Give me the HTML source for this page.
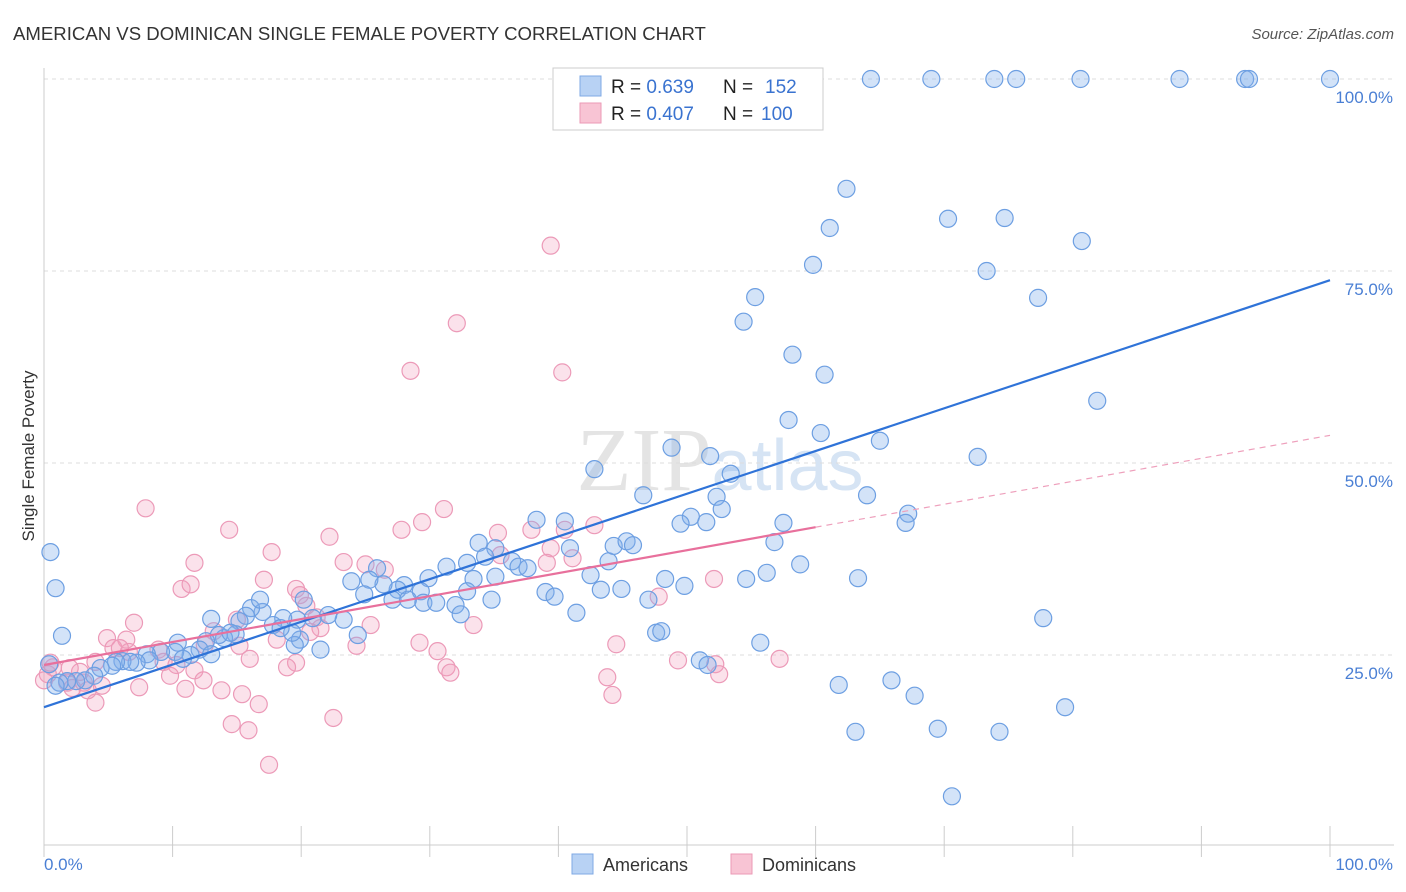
<!DOCTYPE html>
<html><head><meta charset="utf-8">
<style>
body{margin:0;background:#fff;font-family:"Liberation Sans",sans-serif;}
svg{display:block}
</style></head>
<body>
<svg id="chart" width="1406" height="892" xmlns="http://www.w3.org/2000/svg">
<text x="13" y="40" font-size="18.6" fill="#333">AMERICAN VS DOMINICAN SINGLE FEMALE POVERTY CORRELATION CHART</text>
<text x="1394" y="39" font-size="15" fill="#555" font-style="italic" text-anchor="end">Source: ZipAtlas.com</text>
<text x="720" y="490" font-size="90" fill="#e4e4e4" text-anchor="middle" font-family="Liberation Serif,serif">ZIP<tspan fill="#d6e4f4" font-family="Liberation Sans,sans-serif" font-size="72">atlas</tspan></text>
<g id="grid"></g>
<line x1="44" y1="68" x2="44" y2="845" stroke="#ccc"/>
<line x1="44" y1="845" x2="1394" y2="845" stroke="#ccc"/>
<g id="xticks"></g>
<text transform="translate(34,456) rotate(-90)" font-size="17" fill="#333" text-anchor="middle">Single Female Poverty</text>
<text x="44" y="870" font-size="17" fill="#4a7fd4">0.0%</text>
<text x="1393" y="870" font-size="17" fill="#4a7fd4" text-anchor="end">100.0%</text>
<g id="pts"></g>
<g id="lines"></g>
<g>
<rect x="553" y="68" width="270" height="62" fill="#fff" stroke="#ccc"/>
<rect x="580" y="76" width="21" height="20" fill="#b8d2f4" stroke="#7fa9e4"/>
<rect x="580" y="103" width="21" height="20" fill="#f8c4d4" stroke="#eb9ab6"/>
<text x="611" y="93" font-size="19" fill="#222">R = <tspan fill="#3a73d0">0.639</tspan><tspan x="723">N = </tspan><tspan x="765" fill="#3a73d0">152</tspan></text>
<text x="611" y="120" font-size="19" fill="#222">R = <tspan fill="#3a73d0">0.407</tspan><tspan x="723">N = </tspan><tspan x="761" fill="#3a73d0">100</tspan></text>
</g>
<g>
<rect x="572" y="854" width="21" height="20" fill="#b8d2f4" stroke="#7fa9e4"/>
<text x="603" y="871" font-size="18" fill="#333">Americans</text>
<rect x="731" y="854" width="21" height="20" fill="#f8c4d4" stroke="#eb9ab6"/>
<text x="762" y="871" font-size="18" fill="#333">Dominicans</text>
</g>
</svg>
<script>
const yTicks=[25,50,75,100];
const yTickLabels=["25.0%","50.0%","75.0%","100.0%"];
const xTickVals=[0,10,20,30,40,50,60,70,80,90,100];
const amX=[53.9,64.3,69.0,73.9,75.6,88.3,93.4,93.7,100,80.6,62.4,61.1,70.3,74.7,80.7,59.8,73.3,55.3,77.3,54.4,58.2,60.7,81.9,57.9,60.4,65.0,48.8,72.6,51.8,42.8,53.4,46.6,52.3,64.0,67.2,67.0,50.3,52.7,51.5,49.5,57.5,56.8,58.8,56.2,54.6,63.3,43.9,44.3,45.3,45.8,40.5,40.9,38.3,42.5,43.3,44.9,48.3,49.8,47.0,41.4,35.1,33.8,34.3,36.4,36.9,37.6,32.9,35.1,39.0,39.7,33.4,31.3,29.9,29.3,28.0,27.5,28.3,27.1,25.9,26.4,23.9,25.3,24.9,29.5,30.5,32.0,32.9,34.8,32.4,23.3,22.1,20.9,20.2,19.7,18.6,17.8,17.0,16.1,16.8,15.7,15.2,14.9,14.0,13.0,13.6,14.5,12.6,12.1,13.0,11.4,10.4,10.2,10.8,9.1,8.0,8.2,7.2,6.1,6.7,5.6,5.3,4.4,3.9,3.2,2.5,1.8,1.2,0.9,0.4,1.4,0.9,0.5,24.4,19.9,21.5,19.5,19.3,18.4,77.7,55.7,47.6,48.0,51.0,51.6,61.8,65.9,67.7,63.1,69.5,74.3,79.4,70.6];
const amY=[100,100,100,100,100,100,100,100,100,100,85.7,80.6,81.8,81.9,78.9,75.8,75.0,71.6,71.5,68.4,64.1,61.5,58.1,55.6,53.9,52.9,52.0,50.8,50.9,49.2,48.6,45.8,45.6,45.8,43.4,42.2,43.0,44.0,42.3,42.1,42.2,39.7,36.8,35.7,34.9,35.0,37.2,39.2,39.8,39.3,42.4,38.9,42.6,35.4,33.5,33.6,34.9,34.0,32.2,30.5,38.9,39.6,37.8,37.2,36.5,36.3,37.0,35.2,33.2,32.6,34.9,36.5,35.0,33.3,34.1,33.5,32.2,32.2,36.3,34.2,34.6,34.8,32.9,31.8,31.8,31.5,33.3,32.2,30.3,29.6,30.2,29.8,32.2,29.6,29.8,28.9,30.6,31.1,32.2,30.1,29.4,27.7,27.2,29.7,27.6,27.9,26.8,25.7,25.1,25.0,26.6,25.4,24.5,25.4,25.1,24.3,24.0,24.2,24.1,24.1,23.6,23.3,22.3,21.7,21.6,21.6,21.4,21.0,23.8,27.5,33.7,38.4,27.6,27.0,25.7,26.3,27.9,28.5,29.8,26.6,27.9,28.1,24.3,23.7,21.1,21.7,19.7,15.0,15.4,15.0,18.2,6.6];
const doX=[39.4,32.1,28.5,40.3,7.9,14.4,31.1,29.4,22.2,27.8,35.3,37.9,40.5,42.8,41.1,39.4,39.1,35.5,26.5,25.0,23.3,17.7,17.1,11.7,10.7,11.4,19.6,19.9,20.4,21.2,21.5,20.7,15.0,13.2,12.5,7.0,6.4,4.9,5.4,6.6,8.9,9.3,10.3,11.7,9.8,11.0,12.4,13.8,15.4,14.6,16.7,15.9,17.5,22.5,18.1,19.6,18.9,16.0,15.2,24.3,25.4,29.2,30.6,31.3,31.6,33.4,44.5,43.8,44.2,49.3,52.2,52.5,52.1,57.2,47.8,7.4,4.0,4.5,3.1,2.8,1.8,0.7,0.3,0,2.2,3.4,2.0,0.5,4.0,5.9];
const doY=[78.3,68.2,62.0,61.8,44.1,41.3,44.0,42.3,40.4,41.3,40.9,41.3,41.3,41.9,37.6,38.9,37.0,38.0,36.1,36.8,37.1,38.4,34.8,37.0,33.6,34.2,33.6,32.8,31.4,29.9,28.5,28.0,29.6,28.1,26.3,29.2,27.0,27.2,25.9,25.4,25.7,24.1,23.7,23.0,22.3,20.6,21.7,20.4,19.9,16.0,18.6,15.2,10.7,16.8,27.0,24.0,23.4,24.5,26.2,26.2,28.9,26.6,25.5,23.4,22.7,28.9,26.4,22.1,19.8,24.3,23.8,22.5,34.9,24.5,32.6,20.8,18.8,21.0,21.4,22.8,21.4,23.4,22.5,21.7,20.7,20.4,23.3,24.0,24.1,25.9];
const amTrend=[18.2,73.8];
const doTrend=[23.7,53.6];
const doSolidEnd=[60];
const NS="http://www.w3.org/2000/svg";
const sx=v=>44+v*12.86;
const sy=v=>847-v*7.68;
function mk(tag,attrs,parent){const e=document.createElementNS(NS,tag);for(const k in attrs)e.setAttribute(k,attrs[k]);parent.appendChild(e);return e;}
const grid=document.getElementById('grid');
yTicks.forEach((t,i)=>{
 const l=mk('line',{x1:44,x2:1394,y1:sy(t),y2:sy(t),stroke:'#ddd','stroke-dasharray':'4,4'},grid);
 
 
 const tx=mk('text',{x:1393,y:sy(t)+24,'font-size':17,fill:'#4a7fd4','text-anchor':'end'},grid);
 tx.textContent=yTickLabels[i];
 
 
});
const xt=document.getElementById('xticks');
xTickVals.forEach(v=>{
 const l=mk('line',{x1:sx(v),x2:sx(v),y1:826,y2:857,stroke:'#ccc'},xt);
 
 
});
const pts=document.getElementById('pts');
doX.forEach((x,i)=>{
 const c=mk('circle',{cx:sx(x),cy:sy(doY[i]),r:8.5,fill:'rgba(242,160,190,0.3)',stroke:'#ec9ab8','stroke-width':1.2},pts);
 
 
});
amX.forEach((x,i)=>{
 const c=mk('circle',{cx:sx(x),cy:sy(amY[i]),r:8.5,fill:'rgba(130,175,235,0.35)',stroke:'#6d9fe2','stroke-width':1.2},pts);
 
 
});
const lines=document.getElementById('lines');
const ta=mk('line',{x1:sx(0),y1:sy(amTrend[0]),x2:sx(100),y2:sy(amTrend[1]),stroke:'#2f73d8','stroke-width':2.2},lines);


const dAt=x=>doTrend[0]+(doTrend[1]-doTrend[0])*x/100;
const td=mk('line',{x1:sx(0),y1:sy(dAt(0)),x2:sx(doSolidEnd[0]),y2:sy(dAt(doSolidEnd[0])),stroke:'#e8709c','stroke-width':2.2},lines);


const tdd=mk('line',{x1:sx(doSolidEnd[0]),y1:sy(dAt(doSolidEnd[0])),x2:sx(100),y2:sy(dAt(100)),stroke:'#eea0bc','stroke-width':1.2,'stroke-dasharray':'6,5'},lines);


</script>
</body></html>
